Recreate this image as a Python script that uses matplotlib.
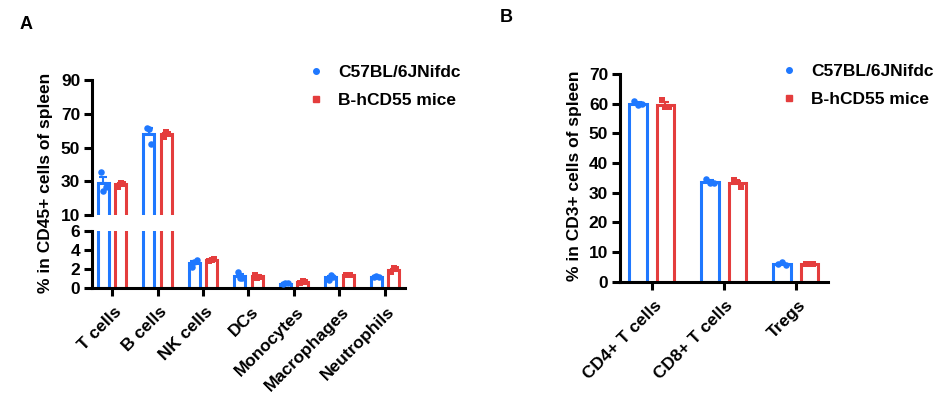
import numpy as np
import matplotlib
matplotlib.use('Agg')
import matplotlib.pyplot as plt
import matplotlib.transforms as mtransforms
from matplotlib.lines import Line2D

plt.rcParams['font.family'] = ['Liberation Sans', 'DejaVu Sans']
plt.rcParams['font.weight'] = 'bold'

# Data
groups = ['C57BL/6JNifdc', 'B-hCD55 mice']
cells_a = ['T cells', 'B cells', 'NK cells', 'DCs', 'Monocytes', 'Macrophages', 'Neutrophils']
wt_a = [[35.6, 24.5, 26.8], [61.7, 60.8, 51.9], [2.2, 2.7, 3.0], [1.65, 1.05, 1.1],
        [0.4, 0.5, 0.5], [0.85, 1.35, 1.2], [1.15, 1.25, 1.2]]
ko_a = [[26.5, 29.2, 28.6], [56.4, 59.0, 58.0], [2.8, 3.0, 3.1], [1.4, 1.05, 1.2],
        [0.5, 0.7, 0.6], [1.4, 1.4, 1.38], [1.7, 2.1, 1.95]]

cells_b = ['CD4+ T cells', 'CD8+ T cells', 'Tregs']
wt_b = [[60.8, 59.4, 59.8], [34.6, 33.1, 33.2], [6.0, 6.5, 5.6]]
ko_b = [[61.2, 58.8, 59.0], [34.2, 33.6, 31.8], [5.8, 6.0, 6.1]]

blue = '#1f78ff'
red = '#e43d3d'
lw = 2.2
fs = 12.5
width = 0.24
off = 0.19
jit = [-0.05, 0.0, 0.05]


def draw(ax, wt, ko):
    for vals, col, sgn in [(wt, blue, -1), (ko, red, 1)]:
        arr = np.array(vals)
        m = arr.mean(axis=1)
        sem = arr.std(axis=1, ddof=1) / np.sqrt(arr.shape[1])
        x = np.arange(len(vals)) + sgn * off
        ax.bar(x, m, width, facecolor='white', edgecolor=col, linewidth=lw, zorder=2)
        ax.errorbar(x, m, yerr=[np.zeros_like(sem), sem], fmt='none', ecolor=col,
                    elinewidth=1.5, capsize=3, capthick=1.5, zorder=3)
        mk = 'o' if col == blue else 's'
        for j in range(arr.shape[1]):
            ax.scatter(x + jit[j], arr[:, j], s=22, marker=mk, color=col, zorder=4, linewidths=0)


def style(ax):
    for s in ['top', 'right']:
        ax.spines[s].set_visible(False)
    for s in ['left', 'bottom']:
        ax.spines[s].set_linewidth(lw)
    ax.tick_params(axis='y', width=lw, length=6, labelsize=fs, pad=2.5)
    ax.tick_params(axis='x', width=lw, length=6, labelsize=fs)


def xlabels(ax, names):
    ax.set_xticks(range(len(names)))
    ax.set_xticklabels(names, rotation=45, ha='right', rotation_mode='anchor', fontsize=12.5)
    shift = mtransforms.ScaledTranslation(0.02, -0.03, fig.dpi_scale_trans)
    for lab in ax.get_xticklabels():
        lab.set_transform(lab.get_transform() + shift)


fig = plt.figure(figsize=(9.41, 3.97), dpi=100)

# Panel A, broken axis
ax_top = fig.add_axes([92 / 941, 1 - 215 / 397, 313 / 941, 135 / 397])
ax_bot = fig.add_axes([92 / 941, 1 - 288 / 397, 313 / 941, 57 / 397])
for ax in (ax_top, ax_bot):
    draw(ax, wt_a, ko_a)
    style(ax)
    ax.set_xlim(-0.44, 6.44)
ax_top.set_ylim(10, 90)
ax_top.set_yticks([10, 30, 50, 70, 90])
ax_top.spines['bottom'].set_visible(False)
ax_top.tick_params(axis='x', bottom=False, labelbottom=False)
ax_bot.set_ylim(0, 6)
ax_bot.set_yticks([0, 2, 4, 6])
xlabels(ax_bot, cells_a)

# Panel B
ax_b = fig.add_axes([620 / 941, 1 - 281.7 / 397, 208 / 941, 207.7 / 397])
draw(ax_b, wt_b, ko_b)
style(ax_b)
ax_b.set_xlim(-0.44, 2.45)
ax_b.set_ylim(0, 70)
ax_b.set_yticks(range(0, 71, 10))
xlabels(ax_b, cells_b)

# Labels
fig.text(46 / 941, 1 - 182.5 / 397, '% in CD45+ cells of spleen', rotation=90,
         ha='center', va='center', fontsize=fs)
fig.text(574 / 941, 1 - 176 / 397, '% in CD3+ cells of spleen', rotation=90,
         ha='center', va='center', fontsize=fs)
fig.text(26.5 / 941, 1 - 24.5 / 397, 'A', ha='center', va='center', fontsize=13)
fig.text(506 / 941, 1 - 17 / 397, 'B', ha='center', va='center', fontsize=13)

# Legends
handles = [Line2D([], [], marker='o', color=blue, linestyle='none', markersize=4),
           Line2D([], [], marker='s', color=red, linestyle='none', markersize=4)]
for x0, y0 in ((307 / 941, 1 - 65 / 397), (780 / 941, 1 - 64 / 397)):
    fig.legend(handles, groups, loc='upper left', bbox_to_anchor=(x0, y0),
               frameon=False, fontsize=fs, handlelength=1, handletextpad=0.8,
               labelspacing=0.75, borderpad=0, borderaxespad=0)

fig.savefig('out.png', dpi=100)
